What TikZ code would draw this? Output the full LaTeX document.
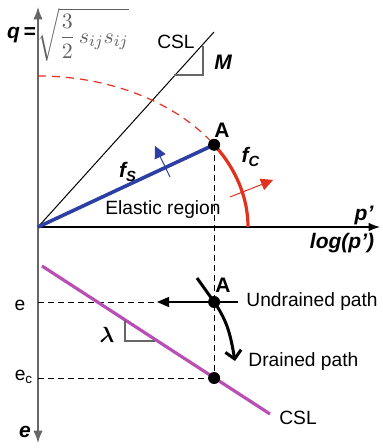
\documentclass[tikz,border=0pt]{standalone}
\usepackage{amsmath,amssymb}
\usepackage{xcolor}
\usepackage{fontspec}
\setmainfont{Liberation Sans}
\usepackage{tikz}
\usetikzlibrary{positioning, arrows.meta, calc}
\definecolor{csBlue}{HTML}{2E3FA3}
\definecolor{csRed}{HTML}{E2311D}
\definecolor{csMag}{HTML}{B94FB5}
\definecolor{csAxis}{HTML}{666666}

\begin{document}
\begin{tikzpicture}[
        x=0.5pt, y=0.5pt, font=\fontsize{9.6}{11}\selectfont, >=Latex,
        lbl/.style={inner sep=1pt},
        bi/.style={lbl, font=\fontsize{10.5}{12}\selectfont\bfseries\itshape},
        axisline/.style={draw=csAxis, line width=0.7pt},
        dashln/.style={dashed, line width=0.5pt, dash pattern=on 3pt off 2pt},
        fslope/.style={draw=gray!80!black, line width=0.6pt},
        nrm/.style={-{Triangle[length=6pt, width=6pt]}, line width=0.5pt},
        pt/.style={circle, fill=black, inner sep=0pt, minimum size=6pt}]
        \useasboundingbox (0,0) rectangle (383,-448);
        % axes
        \coordinate (O) at (38,-227);
        \coordinate (qtop) at (38,-7);
        \coordinate (ebot) at (38,-443);
        \coordinate (pend) at (380,-227);
        \draw[axisline, <->] (qtop) -- (ebot);
        \draw[line width=0.6pt, ->] (O) -- (pend);
        \node[bi, anchor=east, inner sep=0pt] (qlab) at (36,-35) {q\,=};
        \node[lbl, anchor=west, inner sep=0pt, text=gray!75!black, font=\fontsize{11}{13}\selectfont]
              (qform) at (37,-35) {$\sqrt{\dfrac{3}{2}\,s_{ij}s_{ij}}$};
        \node[bi] (plab) at (364,-215) {p’};
        \node[bi] (loglab) at (342,-243) {log(p’)};
        % yield surface and critical state line
        \coordinate (Mtop) at (214,-32);
        \draw[line width=0.5pt] (O) -- (Mtop);
        \coordinate (M1) at (174,-75); \coordinate (M2) at (203,-75); \coordinate (M3) at (203,-46);
        \draw[fslope] (M1) -- (M2) -- (M3);
        \node[lbl] (csl1) at (176,-42) {CSL};
        \node[bi] (mlab) at (223,-62) {M};
        \coordinate (A) at ($(O)+(33:210 and 151)$);
        \draw[csRed, line width=0.6pt, dashed, dash pattern=on 4pt off 3pt]
              (38,-76) arc[start angle=90, end angle=33, x radius=210, y radius=151];
        \draw[csRed, line width=1.6pt] (A) arc[start angle=33, end angle=0, x radius=210, y radius=151];
        \draw[csBlue, line width=1.8pt] (O) -- (A);
        \coordinate (bs) at (170,-177); \coordinate (bt) at (155,-146);
        \draw[csBlue, nrm] (bs) -- (bt);
        \coordinate (rs) at (230,-197); \coordinate (rt) at (273,-180);
        \draw[csRed, nrm] (rs) -- (rt);
        \node[pt] (Ap) at (A) {};
        \node[lbl, font=\fontsize{10.5}{12}\selectfont\bfseries] (alab) at (222,-130) {A};
        \node[bi] (fs) at (128,-172) {f\textsubscript{S}};
        \node[bi] (fc) at (251,-157) {f\textsubscript{C}};
        \node[lbl] (elas) at (163,-210) {Elastic region};
        % e - log(p') plane
        \coordinate (eL) at (38,-302);
        \coordinate (Alow) at (A |- eL);
        \coordinate (Ec) at (A |- 0,-378);
        \coordinate (ecL) at (38,-378);
        \coordinate (utip) at (157,-302);
        \coordinate (uend) at (238,-302);
        \draw[dashln] (A) -- (Ec);
        \draw[dashln] (eL) -- (utip);
        \draw[dashln] (ecL) -- (Ec);
        \draw[line width=0.6pt, -{Triangle[length=6pt, width=5pt]}] (Alow) -- (utip);
        \draw[line width=0.6pt] (Alow) -- (uend);
        \coordinate (c1) at (42,-266); \coordinate (c2) at (270,-414);
        \draw[csMag, line width=1.6pt] (c1) -- (c2);
        \coordinate (l1) at (125,-320); \coordinate (l2) at (125,-341); \coordinate (l3) at (155,-341);
        \draw[fslope] (l1) -- (l2) -- (l3);
        \coordinate (d0) at (197,-278); \coordinate (d1) at (235,-361);
        \draw[line width=1.5pt, -{Straight Barb[length=4pt, width=8pt]}]
              (d0) -- (Alow) to[out=-55, in=100] (d1);
        \node[pt] (Alp) at (Alow) {};
        \node[pt] (Ecp) at (Ec) {};
        \node[lbl, font=\fontsize{10.5}{12}\selectfont\bfseries] (alab2) at (223,-285) {A};
        \node[lbl, anchor=west] (undr) at (244,-302) {Undrained path};
        \node[lbl, anchor=west] (drn) at (246,-362) {Drained path};
        \node[lbl] (csl2) at (298,-418) {CSL};
        \node[lbl] (elab) at (20,-305) {e};
        \node[lbl] (eclab) at (24,-377) {e\textsubscript{c}};
        \node[bi] (elab2) at (25,-432) {e};
        \node[bi] (lam) at (107,-335) {$\boldsymbol{\lambda}$};
      \end{tikzpicture}
\end{document}
